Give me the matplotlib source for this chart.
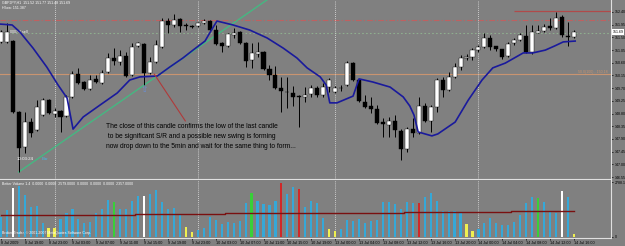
import numpy as np
import matplotlib
matplotlib.use("Agg")
import matplotlib.pyplot as plt

plt.rcParams['font.family'] = ['Liberation Sans', 'DejaVu Sans']

# GBPJPY H1 candles, 8 Jul 15:00 -> 14 Jul 16:00
opens = [151.34, 151.34, 151.37, 148.86, 147.62, 148.50, 148.22, 148.75, 149.28, 148.79,
         148.89, 148.72, 149.39, 150.20, 149.92, 149.67, 150.03, 149.88, 150.27, 150.77,
         150.63, 150.84, 150.17, 151.20, 151.27, 150.24, 150.63, 151.16, 152.08, 151.94,
         152.15, 151.94, 151.90, 151.90, 152.01, 152.08, 151.76, 151.30, 151.20, 151.58,
         151.69, 151.30, 150.70, 150.91, 150.98, 150.38, 150.17, 149.71, 149.57, 149.53,
         149.42, 149.39, 149.50, 149.71, 149.46, 149.74, 149.57, 149.71, 149.81, 150.59,
         149.99, 149.21, 149.07, 148.96, 148.50, 148.40, 148.54, 148.18, 147.55, 148.25,
         148.11, 149.07, 148.54, 149.03, 149.99, 149.64, 150.10, 150.45, 150.77, 150.81,
         151.05, 151.16, 151.48, 151.20, 151.09, 150.84, 151.30, 151.41, 151.55, 150.98,
         151.66, 151.73, 151.90, 151.83, 152.22, 151.55, 151.51]
highs = [151.76, 152.01, 151.41, 148.89, 148.86, 148.64, 149.28, 149.35, 149.32, 149.00,
         148.93, 149.46, 150.31, 150.42, 149.96, 150.17, 150.17, 150.34, 150.95, 151.12,
         151.05, 150.98, 151.30, 151.34, 151.30, 150.81, 151.41, 152.19, 152.19, 152.33,
         152.19, 152.01, 151.94, 152.05, 152.15, 152.12, 151.94, 151.34, 151.66, 151.83,
         151.73, 151.34, 151.30, 151.34, 151.02, 150.52, 150.49, 150.10, 150.10, 149.78,
         149.46, 149.74, 149.81, 149.78, 149.88, 150.06, 149.78, 149.81, 150.66, 150.63,
         150.03, 149.46, 149.39, 149.10, 148.64, 148.68, 148.75, 148.25, 148.33, 148.64,
         149.39, 149.18, 149.10, 150.06, 150.10, 150.27, 150.59, 150.88, 150.91, 151.12,
         151.23, 151.66, 151.58, 151.20, 151.09, 151.34, 151.48, 151.66, 151.94, 151.94,
         151.94, 151.97, 152.19, 152.40, 152.29, 152.05, 151.76]
lows = [151.30, 151.30, 148.82, 146.73, 147.40, 147.97, 148.18, 148.72, 148.79, 148.68,
        148.15, 148.68, 149.35, 149.85, 149.64, 149.64, 149.88, 149.85, 150.24, 150.52,
        150.52, 150.10, 150.13, 151.16, 149.81, 150.20, 150.59, 151.12, 151.66, 151.87,
        151.69, 151.76, 151.83, 151.87, 151.97, 151.73, 151.23, 150.98, 151.16, 151.48,
        151.27, 150.45, 150.42, 150.81, 150.34, 149.99, 149.67, 148.86, 149.00, 149.07,
        148.33, 149.21, 149.39, 149.39, 149.39, 149.57, 149.53, 149.60, 149.78, 149.96,
        149.21, 149.00, 148.82, 148.43, 147.97, 147.97, 147.97, 147.16, 147.44, 147.97,
        148.08, 148.50, 148.15, 148.86, 149.39, 149.60, 150.06, 150.34, 150.70, 150.70,
        150.98, 151.12, 151.05, 151.02, 150.73, 150.81, 151.23, 151.37, 150.95, 150.91,
        151.64, 151.69, 151.76, 151.80, 151.51, 151.20, 151.48]
closes = [151.69, 151.69, 148.86, 147.58, 148.50, 148.11, 149.03, 149.28, 148.82, 148.89,
          148.68, 149.39, 150.20, 149.88, 149.67, 149.99, 149.92, 150.24, 150.77, 150.66,
          150.84, 150.13, 151.16, 151.30, 150.24, 150.63, 151.23, 152.08, 151.94, 152.12,
          151.90, 151.90, 151.87, 152.01, 152.08, 151.76, 151.27, 151.20, 151.62, 151.66,
          151.30, 150.66, 150.95, 150.98, 150.38, 150.17, 149.71, 149.60, 149.55, 149.39,
          149.39, 149.46, 149.71, 149.46, 149.74, 149.99, 149.71, 149.69, 150.59, 149.99,
          149.25, 149.03, 148.96, 148.47, 148.43, 148.54, 148.22, 147.55, 148.25, 148.11,
          149.07, 148.54, 149.03, 149.99, 149.64, 150.10, 150.45, 150.77, 150.79, 151.05,
          151.16, 151.48, 151.16, 151.09, 150.81, 151.27, 151.41, 151.58, 150.98, 151.69,
          151.73, 151.87, 151.83, 152.19, 151.58, 151.51, 151.69]

volumes = [1020, 1360, 2470, 2585, 2125, 1530, 1565, 715, 430, 430,
           885, 1195, 1400, 885, 685, 765, 1195, 1400, 1870, 1755,
           1400, 1400, 1835, 2075, 2075, 2180, 2380, 1785, 1400, 1450,
           1140, 480, 255, 340, 430, 990, 850, 650, 765, 715,
           815, 1705, 2215, 1835, 1670, 1615, 1835, 2725, 2180, 2520,
           2420, 1530, 1835, 1705, 940, 380, 290, 380, 850, 815,
           885, 715, 815, 850, 1785, 1785, 1670, 1400, 1785, 1705,
           1735, 2040, 2245, 1835, 1325, 1325, 1325, 1275, 650, 290,
           380, 715, 940, 685, 595, 595, 765, 1105, 1735, 2010,
           1960, 1785, 1275, 1225, 2330, 2010, 140]
# Better Volume colour class per bar
vol_white = [2, 24, 94]
vol_yellow = [8, 9, 31, 32, 55, 56, 78, 79, 96]
vol_green = [19, 42, 90]
vol_red = [47, 50, 70]
vol_ma_idx = [0, 15, 30, 45, 60, 75, 96]
vol_ma = [1120, 1130, 1170, 1220, 1210, 1270, 1300]

# swing line (blue)
ma_idx = [0, 1.9, 3.2, 5.4, 7.7, 9.6, 11.1, 12.1, 13.8, 16.6, 19.5, 21.6, 23.3, 26.2,
          28.3, 30.5, 32.2, 34.2, 35.0, 36.2, 38.9, 41.7, 44.6, 47.3, 49.6, 51.3, 53.5,
          54.5, 55.1, 56.3, 59.0, 60.0, 62.3, 65.2, 67.4, 68.5, 69.2, 69.9, 72.2, 73.2,
          76.1, 78.3, 80.6, 82.4, 84.5, 87.5, 89.1, 91.2, 92.8, 94.2, 96.2]
ma_price = [151.97, 151.94, 151.69, 151.12, 150.45, 149.81, 149.35, 148.25, 148.68, 149.10,
            149.53, 149.99, 150.10, 150.13, 150.45, 150.77, 151.05, 151.37, 151.66, 152.08,
            151.94, 151.76, 151.48, 151.12, 150.77, 150.42, 150.10, 149.81, 149.18, 149.18,
            149.42, 150.03, 149.92, 149.74, 149.39, 149.07, 148.75, 148.15, 148.01, 148.08,
            148.50, 149.28, 149.99, 150.42, 150.59, 150.95, 150.95, 151.05, 151.20, 151.34,
            151.37]

# trend line through two swing lows, annotation pointer, levels
trend_idx = [3, 24]
trend_price = [146.73, 149.81]
pointer_idx = [25.7, 30.9]
pointer_price = [150.20, 148.54]
level_red = 152.12
level_green = 151.66
level_orange = 150.19
level_top = 152.425
level_top_start = 86
sep_idx = [9, 33, 56, 80]

price_ticks = [152.40, 151.95, 151.50, 151.05, 150.60, 150.15, 149.70,
               149.25, 148.80, 148.35, 147.90, 147.45, 147.00, 146.55]
time_idx = list(range(0, 97, 4))
time_labels = ['8 Jul 2009', '8 Jul 19:00', '8 Jul 23:00', '9 Jul 03:00', '9 Jul 07:00',
               '9 Jul 11:00', '9 Jul 15:00', '9 Jul 19:00', '9 Jul 23:00', '10 Jul 03:00',
               '10 Jul 07:00', '10 Jul 11:00', '10 Jul 15:00', '10 Jul 19:00', '13 Jul 00:00',
               '13 Jul 04:00', '13 Jul 08:00', '13 Jul 12:00', '13 Jul 16:00', '13 Jul 20:00',
               '14 Jul 00:00', '14 Jul 04:00', '14 Jul 08:00', '14 Jul 12:00', '14 Jul 16:00']

bg = '#808080'
fig = plt.figure(figsize=(6.25, 2.46), dpi=100, facecolor=bg)
ax = fig.add_axes([0, 0.2724, 0.9776, 0.7276], facecolor=bg)
axv = fig.add_axes([0, 0.0325, 0.9776, 0.2358], facecolor=bg, sharex=ax)

n = len(opens)
x = np.arange(n)
o = np.array(opens); c = np.array(closes)
up = c >= o

# candles
ax.vlines(x, lows, highs, color='black', lw=0.7, zorder=3)
body_lo = np.minimum(o, c)
body_h = np.maximum(np.abs(c - o), 0.012)
ax.bar(x[up], body_h[up], bottom=body_lo[up], width=0.68, color='white',
       edgecolor='black', lw=0.3, zorder=4)
ax.bar(x[~up], body_h[~up], bottom=body_lo[~up], width=0.68, color='black',
       edgecolor='black', lw=0.3, zorder=4)

# level lines
ax.axhline(level_red, color='#c06060', lw=0.8, ls=(0, (5, 2, 1, 2)), zorder=1)
ax.axhline(level_green, color='#8fae8f', lw=0.8, ls=(0, (1.5, 2)), zorder=1)
ax.axhline(level_orange, color='#c99470', lw=0.8, zorder=1)
ax.hlines(level_top, level_top_start, 103, color='#b04a4a', lw=0.9, zorder=2)
for s in sep_idx:
    ax.axvline(s, color='#e6e6e6', lw=0.6, ls=(0, (1, 1.5)), zorder=1)
    axv.axvline(s, color='#e6e6e6', lw=0.6, ls=(0, (1, 1.5)), zorder=1)

# trend line, extended from first low to the top edge
slope = (trend_price[1] - trend_price[0]) / (trend_idx[1] - trend_idx[0])
tx = np.array([trend_idx[0], trend_idx[0] + 50])
ax.plot(tx, trend_price[0] + slope * (tx - trend_idx[0]), color='#45b882', lw=1.0, zorder=2)

ax.plot(ma_idx, ma_price, color='#1a1a9c', lw=1.2, zorder=5)
ax.plot(pointer_idx, pointer_price, color='#b03a3a', lw=0.8, zorder=5)
ax.text(24, 149.80, '\u21e7', color='#6b8fd6', fontsize=6.5, ha='center', va='top',
        family='DejaVu Sans', zorder=6)

# texts
ax.text(0.003, 0.995, 'GBPJPY,H1  151.52 151.77 151.48 151.69', transform=ax.transAxes,
        color='white', fontsize=2.6, va='top', ha='left')
ax.text(0.003, 0.965, 'Hilow: 151.387', transform=ax.transAxes,
        color='white', fontsize=2.6, va='top', ha='left')
ax.text(1.5, 151.69, '0007.3 sell', color='white', fontsize=2.6, va='center')
ax.text(2.7, 147.19, '10:03:24', color='white', fontsize=3.2, va='center')
ax.text(6.9, 147.19, 'Bar', color='#45b8e8', fontsize=3.2, va='center')
notes = ['The close of this candle confirms the low of the last candle',
         ' to be significant S/R and a possible new swing is forming',
         'now drop down to the 5min and wait for the same thing to form...']
for k, t in enumerate(notes):
    ax.text(17.6, 148.36 - k * 0.355, t, color='black', fontsize=4.8, va='center', ha='left')
ax.text(101.7, level_orange + 0.03, '50.0(100) - 150.18', color='#c99470',
        fontsize=2.6, ha='right', va='bottom')

ax.set_xlim(-0.134, 102.2)
ax.set_ylim(146.483, 152.825)
ax.yaxis.tick_right()
ax.set_yticks(price_ticks, ['%.2f' % p for p in price_ticks])
ax.tick_params(axis='y', labelsize=2.6, colors='black', length=1.5, width=0.5, pad=1)
ax.tick_params(axis='x', bottom=False, labelbottom=False)
ax.text(1.003, (closes[-1] - 146.483) / (152.825 - 146.483), '%.2f' % closes[-1],
        transform=ax.transAxes, fontsize=2.6, color='black', va='center', ha='left',
        bbox=dict(boxstyle='square,pad=0.15', fc='white', ec='none'))
for sp in ['left', 'top']:
    ax.spines[sp].set_visible(False)
for sp in ['right', 'bottom']:
    ax.spines[sp].set_color('#e0e0e0')
    ax.spines[sp].set_linewidth(0.8)

# volume panel
vcol = ['#35a8d8'] * n
for i in vol_white:
    vcol[i] = 'white'
for i in vol_yellow:
    vcol[i] = '#f0f050'
for i in vol_green:
    vcol[i] = '#38d038'
for i in vol_red:
    vcol[i] = '#d02828'
axv.bar(x, volumes, width=0.36, color=vcol, zorder=3)
axv.plot(vol_ma_idx, vol_ma, color='#7a1010', lw=1.0, drawstyle='steps-mid', zorder=4)
axv.set_ylim(-66, 2892)
axv.set_yticks([0, 2788.1], ['0', '2788.1'])
axv.yaxis.tick_right()
axv.tick_params(axis='y', labelsize=2.6, colors='black', length=1.5, width=0.5, pad=1)
axv.set_xticks(time_idx, time_labels)
axv.tick_params(axis='x', labelsize=2.7, colors='black', length=1.5, width=0.5, pad=0.8)
for lab in axv.get_xticklabels():
    lab.set_ha('left')
axv.spines['top'].set_visible(False)
axv.spines['left'].set_visible(False)
for sp in ['right', 'bottom']:
    axv.spines[sp].set_color('#e0e0e0')
    axv.spines[sp].set_linewidth(0.8)
axv.text(0.003, 0.97, 'Better Volume 1.4  0.0000  0.0000  2579.0000  0.0000  0.0000  0.0000  2357.0000',
         transform=axv.transAxes, color='white', fontsize=2.5, va='top')
axv.text(0.003, 0.05, 'Broker/Trader, \u00a9 2001-2007 MetaQuotes Software Corp.',
         transform=axv.transAxes, color='white', fontsize=2.5, va='bottom')

fig.savefig('out.png', dpi=100, facecolor=bg)
